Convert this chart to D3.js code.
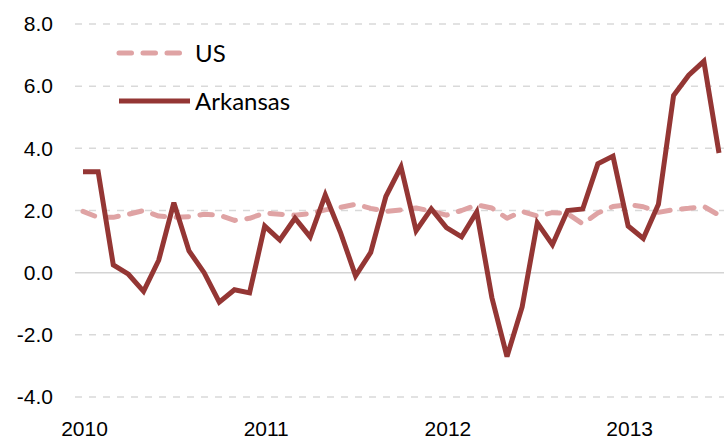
<!DOCTYPE html>
<html>
<head>
<meta charset="utf-8">
<script src="https://cdn.jsdelivr.net/npm/d3@7"></script>
<style>
body { margin: 0; background: #fff; }
svg { display: block; font-family: Lato, "Open Sans", sans-serif; }
.grid line { stroke: #d9d9d9; stroke-width: 1.5; stroke-dasharray: 7,7; }
.grid line.zero { stroke-dasharray: none; stroke: #d4d4d4; }
.axis path, .axis line { display: none; }
.axis text { fill: #000; font-size: 21px; }
.line { fill: none; stroke-width: 5; }
.us { stroke: #dfa3a4; stroke-dasharray: 12.5,11.5; stroke-linecap: round; stroke-linejoin: round; }
.ark { stroke: #943634; stroke-linecap: butt; stroke-linejoin: miter; stroke-miterlimit: 3; }
.legend text { font-size: 24px; fill: #000; }
</style>
</head>
<body>
<script>
const WIDTH = 724;
const HEIGHT = 439;

// monthly, Jan 2010 .. Jul 2013
const years = ['2010', '2011', '2012', '2013'];
const yTicks = [-4, -2, 0, 2, 4, 6, 8];

const usValues = [
	1.97, 1.78, 1.78, 1.88, 2.0, 1.82, 1.78, 1.8, 1.88, 1.85, 1.68, 1.75,
	1.92, 1.88, 1.85, 1.9, 2.02, 2.1, 2.2, 2.07, 1.97, 2.02, 2.08, 1.98,
	1.85, 2.0, 2.18, 2.08, 1.75, 1.97, 1.82, 1.93, 1.9, 1.57, 1.92, 2.13,
	2.19, 2.12, 1.94, 2.03, 2.07, 2.13, 1.85
];
const arkansasValues = [
	3.25, 3.25, 0.25, -0.05, -0.6, 0.4, 2.25, 0.7, 0.0, -0.95, -0.55, -0.65,
	1.5, 1.05, 1.75, 1.15, 2.5, 1.3, -0.1, 0.65, 2.45, 3.4, 1.35, 2.05,
	1.45, 1.15, 1.95, -0.8, -2.7, -1.1, 1.6, 0.9, 2.0, 2.05, 3.5, 3.75,
	1.5, 1.1, 2.2, 5.7, 6.35, 6.8, 3.85
];

var svg = d3.select('body')
	.append('svg')
	.attr('width', WIDTH)
	.attr('height', HEIGHT);

var xScale = d3.scaleLinear().domain([0, arkansasValues.length - 1]).range([83, 719]);
var yScale = d3.scaleLinear().domain([-4, 8]).range([397, 24]);

// gridlines
svg.append('g')
	.classed('grid', true)
	.selectAll('line')
	.data(yTicks)
	.enter()
	.append('line')
	.classed('zero', function(d){ return d === 0; })
	.attr('x1', 75)
	.attr('x2', WIDTH)
	.attr('y1', function(d){ return yScale(d); })
	.attr('y2', function(d){ return yScale(d); });

var yAxis = d3.axisLeft(yScale)
	.tickValues(yTicks)
	.tickFormat(function(d){ return d.toFixed(1); })
	.tickSize(0)
	.tickPadding(0);
svg.append('g')
	.classed('axis', true)
	.attr('transform', 'translate(53,0)')
	.call(yAxis);

var xAxis = d3.axisBottom(xScale)
	.tickValues(years.map(function(y, i){ return i*12; }))
	.tickFormat(function(d){ return years[d/12]; })
	.tickSize(0)
	.tickPadding(0);
svg.append('g')
	.classed('axis', true)
	.attr('transform', 'translate(1,421)')
	.call(xAxis);

var line = d3.line()
	.x(function(d, i){ return xScale(i); })
	.y(function(d){ return yScale(d); });

svg.append('path').classed('line us', true).attr('d', line(usValues));
svg.append('path').classed('line ark', true).attr('d', line(arkansasValues));

// legend
var legend = svg.append('g').classed('legend', true);
var items = [
	{name: 'US', cls: 'line us', y: 53, x2: 182},
	{name: 'Arkansas', cls: 'line ark', y: 101, x2: 190}
];
items.forEach(function(it){
	legend.append('path')
		.attr('class', it.cls)
		.attr('d', 'M119,' + it.y + 'H' + it.x2);
	legend.append('text')
		.attr('x', 195)
		.attr('y', it.y)
		.attr('dy', '0.36em')
		.text(it.name);
});
</script>
</body>
</html>
